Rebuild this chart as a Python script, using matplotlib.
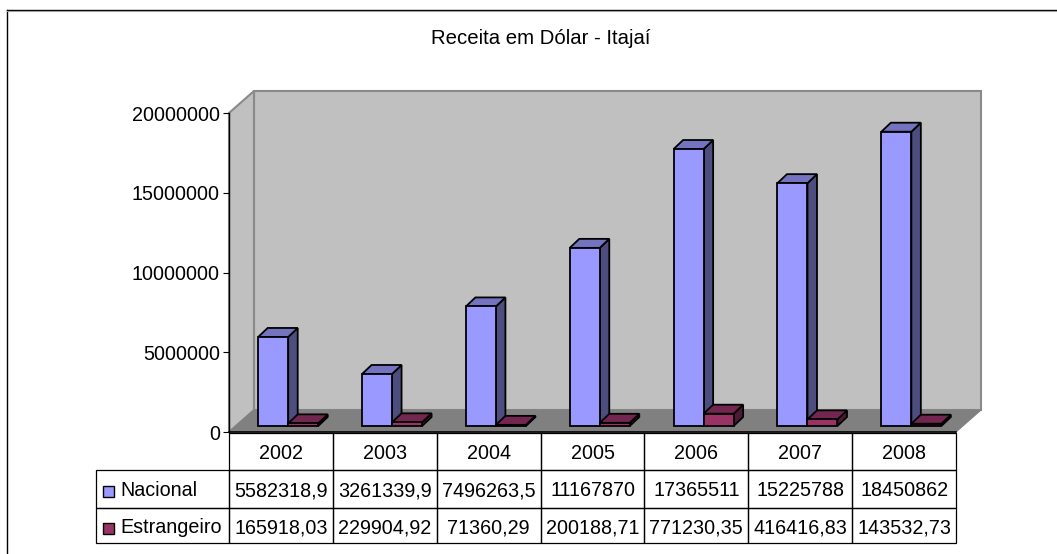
import numpy as np
import matplotlib
matplotlib.use('Agg')
import matplotlib.pyplot as plt
from matplotlib.lines import Line2D
from matplotlib.patches import Rectangle
from matplotlib.transforms import Affine2D, IdentityTransform

plt.rcParams['font.family'] = ['Liberation Sans', 'DejaVu Sans']

anos = ['2002', '2003', '2004', '2005', '2006', '2007', '2008']
series = ['Nacional', 'Estrangeiro']
nacional = [5582318.9, 3261339.9, 7496263.5, 11167870, 17365511, 15225788, 18450862]
estrangeiro = [165918.03, 229904.92, 71360.29, 200188.71, 771230.35, 416416.83, 143532.73]
nacional_txt = ['5582318,9', '3261339,9', '7496263,5', '11167870', '17365511', '15225788', '18450862']
estrangeiro_txt = ['165918,03', '229904,92', '71360,29', '200188,71', '771230,35', '416416,83', '143532,73']
y_ticks = [0, 5000000, 10000000, 15000000, 20000000]

W, H = 1057, 554
FS = 14.2

fig = plt.figure(figsize=(W / 100, H / 100), dpi=100, facecolor='white')
# area do grafico em pixels da imagem (frente do "3D")
esq, dir_, topo, base = 229, 956, 113, 432
ax = fig.add_axes([esq / W, (H - base) / H, (dir_ - esq) / W, (base - topo) / H])
ax.set_xlim(0, 7)
ax.set_ylim(0, 20000000)
ax.patch.set_visible(False)
for s in ['top', 'right', 'bottom']:
    ax.spines[s].set_visible(False)
ax.spines['left'].set_linewidth(1.0)
ax.spines['left'].set_zorder(6)
ax.set_xticks([])
ax.set_yticks(y_ticks)
ax.set_yticklabels([str(v) for v in y_ticks], fontsize=FS)
ax.tick_params(axis='y', length=4.3, width=0.8, pad=2.2)

# paredes e chao, deslocados em pixels
DX, DY = 25, 22
fundo = ax.transData + Affine2D().translate(DX, DY)
ax.fill([0, 7, 7, 0], [0, 0, 20000000, 20000000], transform=fundo, fc='#c0c0c0', ec='#8a8a8a',
        lw=1.5, zorder=1, clip_on=False)
px = ax.transData.transform
(x0, y0), (x1, y1) = px((0, 0)), px((7, 20000000))
pix = IdentityTransform()
ax.fill([x0, x0 + DX, x0 + DX, x0], [y0, y0 + DY, y1 + DY, y1], transform=pix, fc='#c0c0c0',
        ec='#8a8a8a', lw=1.5, zorder=1, clip_on=False)
ax.fill([x0, x1, x1 + DX, x0 + DX], [y0, y0, y0 + DY, y0 + DY], transform=pix, fc='#808080',
        ec='#808080', lw=0.8, zorder=2, clip_on=False)
ax.plot([x0, x1], [y0, y0], transform=pix, color='black', lw=1.2, zorder=6, clip_on=False)


def barras(valores, x_ini, cor, cor_lado, cor_topo):
    # frente com ax.bar, lado e topo a partir do valor
    larg = 30 / 103.857
    tr = ax.transData + Affine2D().translate(0, 6)
    dx, dy = 9.5, 9
    for i, v in enumerate(valores):
        x = i + x_ini
        xa, ya = tr.transform((x, 0))
        xb, yb = tr.transform((x + larg, v))
        ax.fill([xb, xb + dx, xb + dx, xb], [ya, ya + dy, yb + dy, yb], transform=pix,
                fc=cor_lado, ec='black', lw=1.3, zorder=3 + i * 0.1, clip_on=False)
        ax.fill([xa, xb, xb + dx, xa + dx], [yb, yb, yb + dy, yb + dy], transform=pix,
                fc=cor_topo, ec='black', lw=1.3, zorder=3 + i * 0.1, clip_on=False)
        ax.bar(x, v, width=larg, align='edge', transform=tr, color=cor, edgecolor='black',
               linewidth=1.3, zorder=3 + i * 0.1, clip_on=False)


barras(nacional, 29.2 / 103.857, '#9999ff', '#4d4d80', '#7373bf')
barras(estrangeiro, 59.2 / 103.857, '#993366', '#4d1a33', '#732650')

fig.text(541 / W, 1 - 38.5 / H, 'Receita em Dólar - Itajaí', ha='center', va='center', fontsize=14.7)

# tabela de dados (o bbox vale so para as colunas sem o rotulo)
linhas = [anos, nacional_txt, estrangeiro_txt]
tb_topo, tb_base = 432.5, 543
col0 = 132.5
largura = dir_ - esq
alturas = [37.5, 38, 35]
tab = ax.table(cellText=linhas, cellLoc='center', colWidths=[1 / 7] * 7,
               bbox=[0, (base - tb_base) / (base - topo), 1, (tb_base - tb_topo) / (base - topo)])
tab.auto_set_font_size(False)
for r, nome in enumerate(series, start=1):
    tab.add_cell(r, -1, width=col0 / largura, height=1, text=nome, loc='left')
tab.set_fontsize(FS)
for (r, c), cell in tab.get_celld().items():
    cell.set_linewidth(0.9)
    cell.set_edgecolor('black')
    cell.set_height(alturas[r] / (tb_base - tb_topo))
    cell.set_facecolor('none')
    cell.get_text().set_verticalalignment('center_baseline')
    if c == -1:
        cell.PAD = 23.5 / col0

# quadradinhos da legenda
for y, cor in [(491.5, '#9999ff'), (528, '#993366')]:
    fig.add_artist(Rectangle((102.5, H - y - 5.5), 11, 11, transform=pix, fc=cor, ec='black', lw=1.0, zorder=10))

# moldura: so em cima e a esquerda
fig.add_artist(Line2D([6.5, 6.5], [0, H - 9.5], transform=pix, color='black', lw=1.0))
fig.add_artist(Line2D([6.5, W], [H - 9.5, H - 9.5], transform=pix, color='black', lw=1.0))
fig.add_artist(Line2D([7, W], [H - 10.8, H - 10.8], transform=pix, color='#a0a0a0', lw=0.8))

fig.savefig('out.png', dpi=100)
